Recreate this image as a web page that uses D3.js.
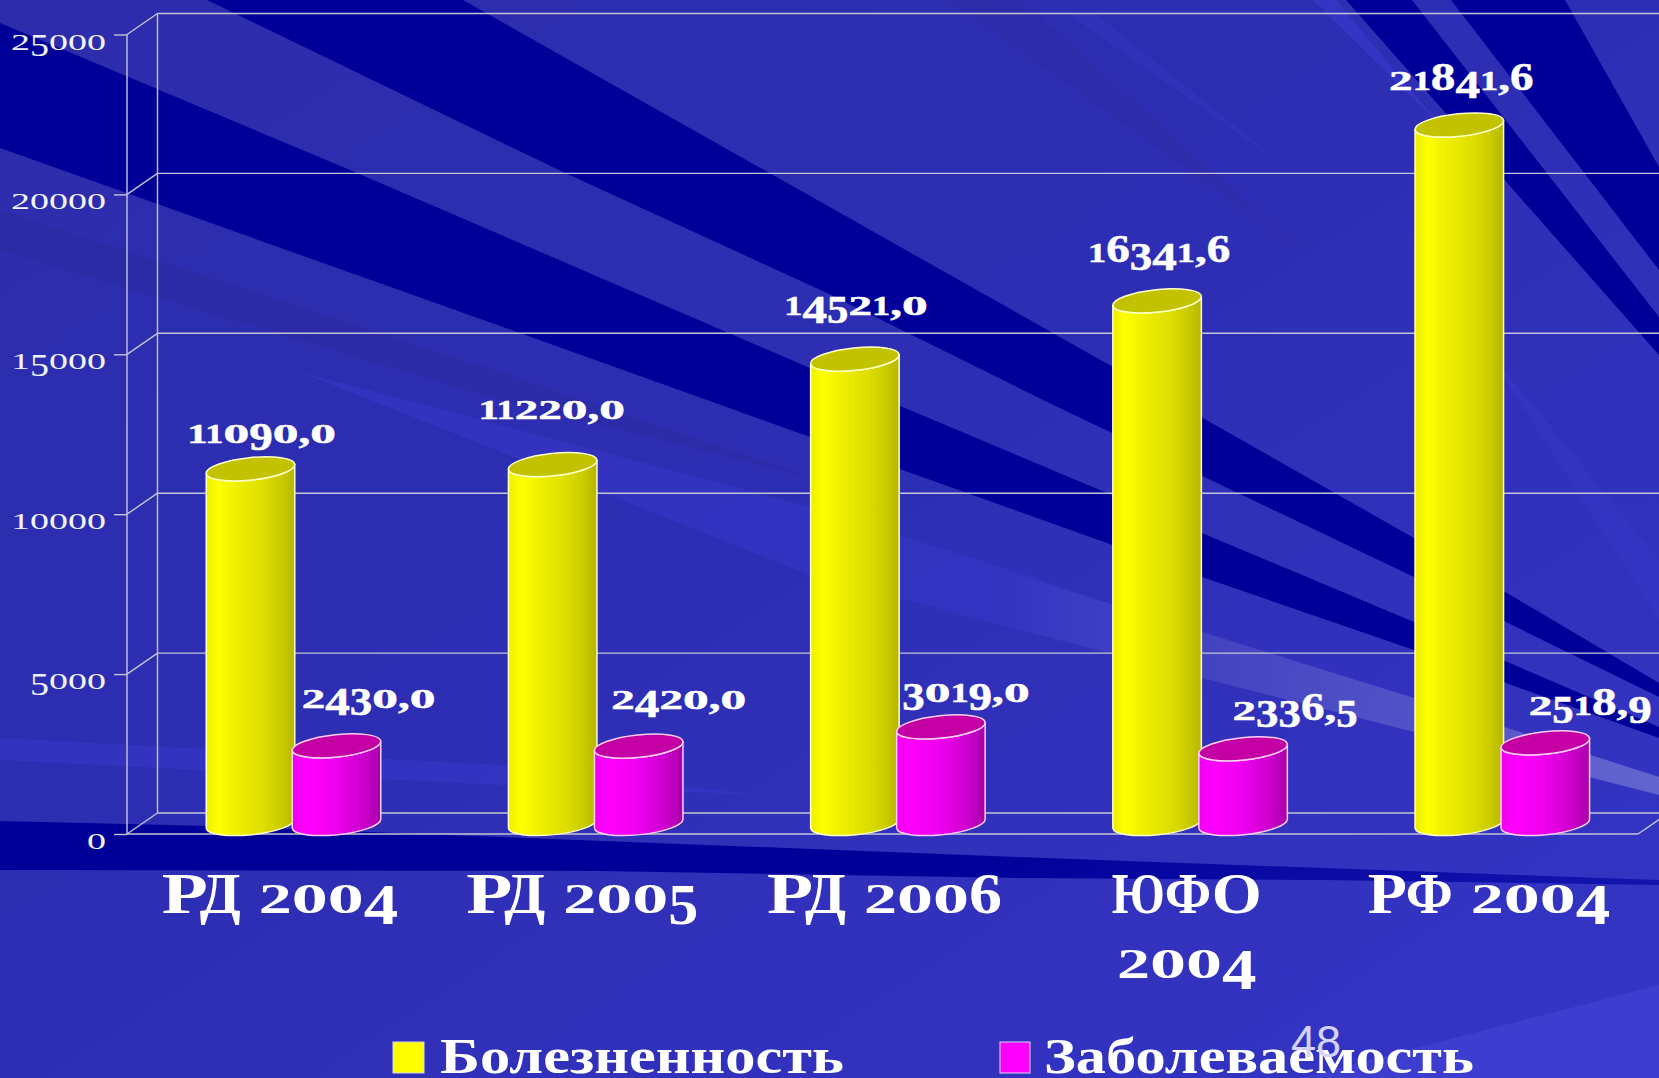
<!DOCTYPE html>
<html><head><meta charset="utf-8">
<style>html,body{margin:0;padding:0;background:#2e2eb4;overflow:hidden}svg{display:block}</style>
<script src="https://cdn.jsdelivr.net/npm/d3@7/dist/d3.min.js"></script>
</head><body><svg id="c" width="1659" height="1078"></svg>
<script>
const categories = ["РД 2004", "РД 2005", "РД 2006", "ЮФО\n2004", "РФ 2004"];
const seriesNames = ["Болезненность", "Заболеваемость"];
const morbidity = [11090.0, 11220.0, 14521.0, 16341.6, 21841.6];
const incidence = [2430.0, 2420.0, 3019.0, 2336.5, 2518.9];
const valueLabels = [["11090,0","11220,0","14521,0","16341,6","21841,6"],["2430,0","2420,0","3019,0","2336,5","2518,9"]];
const yTicks = [0, 5000, 10000, 15000, 20000, 25000];
const pageNumber = "48";

// label nudges relative to the top of each column (hand placed in the source chart)
const labelDx = [[11, -1, 1, 2, 2], [32, 40, 25, 52, 45]];
const labelDy = [[-26, -46, -44, -39, -35], [-38, -37, -25, -29, -28]];

// decorative background rays
const darkRays = [
 [[463,0],[1113,367],[1414,538],[1659,683],[1659,697],[1414,577],[1043,400],[827,293],[563,172],[207,0]],
 [[0,23],[350,170],[810,368],[1202,533],[1414,622],[1659,727],[1659,738],[1414,650],[1202,577],[707,400],[517,332],[0,148]],
 [[1451,0],[1565,0],[1659,167],[1659,270]],
 [[1346,0],[1412,0],[1659,317],[1659,355]]
];
const floorRay = [[0,821],[212,826],[500,837],[1020,857],[1100,860],[1659,880],[1659,885],[1323,880],[1020,878],[600,871],[0,870]];
const softRays = [
 {p:[[300,372],[810,507],[1020,573],[1160,620],[1160,665],[1020,630],[810,575]],c:"#3636c6",o:.7},
 {p:[[0,738],[500,765],[760,795],[500,785],[0,760]],c:"#3636c6",o:.7},
 {p:[[1659,985],[1300,1078],[1659,1078]],c:"#4040d2",o:.8},
 {p:[[1313,0],[1336,0],[1440,125]],c:"#3636c6",o:.9},
 {p:[[1067,13],[1095,13],[1290,170]],c:"#3434c2",o:.5},
 {p:[[0,210],[500,372],[820,480],[500,400],[0,250]],c:"#2a2a9e",o:.45},
 {p:[[950,0],[1020,0],[1300,250]],c:"#2a2a9e",o:.35},
 {p:[[1480,340],[1659,560],[1659,620]],c:"#3636c6",o:.7}
];
const glowRay = [[1000,570],[1202,632],[1414,698],[1659,777],[1659,795],[1414,732],[1202,678],[1000,625]];

// glyph widths of the wide old-style figures used in the source
const digitW = {"0":24,"1":17,"2":22,"3":21,"4":23,"5":20,"6":22,"7":20,"8":23,"9":22,",":11,"Р":38,"Д":41,"Ф":47,"Ю":53,"О":50," ":18};

const svg = d3.select("#c");
const W = 1659, H = 1078;
const defs = svg.append("defs");
function grad(id, stops, a){
  const g = defs.append("linearGradient").attr("id", id);
  Object.entries(a||{x1:0,y1:0,x2:1,y2:0}).forEach(([k,v])=>g.attr(k,v));
  stops.forEach(s=>g.append("stop").attr("offset",s[0]).attr("stop-color",s[1]).attr("stop-opacity",s[2]===undefined?1:s[2]));
}
grad("bg",[[0,"#2c2cab"],[.5,"#2e2eb5"],[1,"#3535c6"]],{x1:0,y1:0,x2:1,y2:1});
grad("glow",[[0,"#fff",0],[.3,"#fff",.09],[1,"#fff",.24]]);
grad("floor",[[0,"#000099"],[.55,"#000099"],[1,"#1414ae"]]);
grad("bodyY",[[0,"#eeee00"],[.14,"#ffff00"],[.36,"#eeee00"],[.62,"#e0e000"],[.84,"#cccc00"],[1,"#b6b600"]]);
grad("bodyM",[[0,"#f000f0"],[.16,"#ff00ff"],[.5,"#ee00ee"],[.8,"#cc00cc"],[1,"#a800a8"]]);

svg.append("rect").attr("width",W).attr("height",H).attr("fill","url(#bg)");
const line2 = d3.line();
svg.append("g").selectAll("path").data(softRays).join("path").attr("d",d=>line2(d.p)+"Z").attr("fill",d=>d.c).attr("opacity",d=>d.o);
svg.append("g").selectAll("path").data(darkRays).join("path").attr("d",d=>line2(d)+"Z").attr("fill","#000099");
svg.append("path").attr("d",line2(floorRay)+"Z").attr("fill","url(#floor)");
svg.append("path").attr("d",line2(glowRay)+"Z").attr("fill","url(#glow)");

// scales
const depth = {x:30.5, y:21};
const x = d3.scaleBand().domain(categories).range([127,1638]);
const xSeries = d3.scaleBand().domain(seriesNames).range([79,251]);
const yBack = d3.scaleLinear().domain([0,25000]).range([813,13.5]);
const yFront = v => yBack(v)+depth.y;
const yMid = v => yBack(v)+depth.y/2;
const barRx = 44.5, barRy = 11.2, tilt = -6;

// old-style numerals built from real text; each glyph is fitted to its width
const serif = "'Liberation Serif','DejaVu Serif',serif";
function oldStyle(sel, str, fs, k, fixed){
  sel.text(null);
  let cur = 0;
  for(const ch of str){
    let size = fs, base = 0;
    if("012".includes(ch)) size = fs*.74;
    else if("34579".includes(ch)){ size = fs*1.03; base = fs*.2; }
    else if("68".includes(ch)) size = fs*1.03;
    else if(ch===",") size = fs*.9;
    sel.append("tspan").attr("font-size",size).attr("dy",base-cur)
      .attr("textLength",(fixed||digitW[ch]||20)*k).attr("lengthAdjust","spacingAndGlyphs").text(ch);
    cur = base;
  }
}

// walls and grid
const gridCol = "#c4c4d4";
const walls = svg.append("g").attr("fill","none").attr("stroke",gridCol).attr("stroke-width",1.4);
const backX = x.range()[0]+depth.x;
walls.selectAll(".grid").data(yTicks).join("line").attr("class","grid")
  .attr("x1",backX).attr("x2",W).attr("y1",d=>yBack(d)).attr("y2",d=>yBack(d));
walls.selectAll(".diag").data(yTicks).join("line").attr("class","diag")
  .attr("x1",x.range()[0]).attr("x2",backX).attr("y1",d=>yFront(d)).attr("y2",d=>yBack(d));
walls.append("line").attr("x1",backX).attr("x2",backX).attr("y1",yBack(25000)).attr("y2",yBack(0));
walls.append("line").attr("x1",x.range()[0]).attr("x2",x.range()[0]).attr("y1",yFront(25000)).attr("y2",yFront(0));
walls.append("line").attr("x1",x.range()[1]).attr("x2",x.range()[1]+depth.x).attr("y1",yFront(0)).attr("y2",yBack(0));
walls.append("line").attr("x1",x.range()[0]).attr("x2",x.range()[1]).attr("y1",yFront(0)).attr("y2",yFront(0));

// y axis (ticks + labels) through d3.axisLeft
const yAxisScale = d3.scaleLinear().domain([0,25000]).range([yFront(0),yFront(25000)]);
const yAxis = svg.append("g").attr("transform",`translate(${x.range()[0]},0)`)
  .call(d3.axisLeft(yAxisScale).tickValues(yTicks).tickSize(13).tickFormat(d3.format("d")));
yAxis.select(".domain").remove();
yAxis.selectAll("line").attr("stroke",gridCol).attr("stroke-width",1.4);
yAxis.selectAll("text").each(function(d){
  const t = d3.select(this), s = String(d);
  t.attr("x",null).attr("dy",null).attr("font-family",serif).attr("fill","#f2f2fa").attr("text-anchor","end")
   .attr("transform",`translate(-21,14.5)`);
  oldStyle(t,s,31,1,19);
});

// columns
const bars = svg.append("g");
const series = [
 {name:seriesNames[0], values:morbidity, body:"url(#bodyY)", top:"#c2c200", edge:"#ffffc8"},
 {name:seriesNames[1], values:incidence, body:"url(#bodyM)", top:"#c400a4", edge:"#ffd0f4"}
];
const rad = tilt*Math.PI/180, ex = barRx*Math.cos(rad), ey = barRx*Math.sin(rad);
function cx(cat,s){ return x(cat)+xSeries(s)+xSeries.bandwidth()/2+1.5; }
function bodyPath(c,yt,yb){
  return `M${c-ex},${yt-ey}L${c-ex},${yb-ey}A${barRx},${barRy} ${tilt} 0 0 ${c+ex},${yb+ey}L${c+ex},${yt+ey}A${barRx},${barRy} ${tilt} 0 1 ${c-ex},${yt-ey}Z`;
}
const rows = categories.flatMap((cat,i)=>series.map(s=>({cat,i,s,v:s.values[i]})));
const g = bars.selectAll("g").data(rows).join("g");
g.append("path").attr("d",d=>bodyPath(cx(d.cat,d.s.name),yMid(d.v),yMid(0)))
  .attr("fill",d=>d.s.body).attr("stroke",d=>d.s.edge).attr("stroke-width",1.5).attr("stroke-linejoin","round");
g.append("ellipse").attr("cx",0).attr("cy",0).attr("rx",barRx).attr("ry",barRy)
  .attr("transform",d=>`translate(${cx(d.cat,d.s.name)},${yMid(d.v)}) rotate(${tilt})`)
  .attr("fill",d=>d.s.top).attr("stroke",d=>d.s.edge).attr("stroke-width",1.5);

// value labels
const vl = svg.append("g").attr("font-family",serif).attr("font-weight","bold").attr("fill","#fff").attr("text-anchor","middle")
  .attr("stroke","#fff").attr("stroke-width",.5);
series.forEach((s,si)=>{
  vl.selectAll(null).data(s.values).join("text")
    .attr("transform",(d,i)=>`translate(${cx(categories[i],s.name)+labelDx[si][i]},${yMid(d)+labelDy[si][i]})`)
    .each(function(d,i){ oldStyle(d3.select(this),valueLabels[si][i],38,1.07); });
});

// category axis
const xAxis = svg.append("g").attr("transform",`translate(0,${yFront(0)})`)
  .call(d3.axisBottom(x).tickSize(0).tickFormat(""));
xAxis.select(".domain").remove();
xAxis.selectAll("text").remove();
xAxis.selectAll(".tick").each(function(d){
  const lines = d.split("\n"), tick = d3.select(this);
  lines.forEach((ln,k)=>{
    const t = tick.append("text").attr("font-family",serif).attr("font-weight","bold").attr("fill","#fff")
      .attr("text-anchor","middle").attr("y",null)
      .attr("transform",`translate(2,${79+k*65})`);
    t.text(null);
    let cur = 0;
    for(const ch of ln){
      const isDigit = /[0-9]/.test(ch);
      let size = 56, base = 0;
      if("012".includes(ch)) size = 56*.74;
      else if("34579".includes(ch)){ size = 56*1.03; base = 56*.2; }
      else if("68".includes(ch)) size = 56*1.03;
      t.append("tspan").attr("font-size",size).attr("dy",base-cur)
       .attr("textLength",(digitW[ch]||20)*(isDigit?1.5:1)).attr("lengthAdjust","spacingAndGlyphs").text(ch);
      cur = base;
    }
  });
});

// legend
const legendItems = [
 {name:seriesNames[0], color:"#ffff00", sx:393, sw:31, tx:440, tw:404},
 {name:seriesNames[1], color:"#ff00ff", sx:1000, sw:30, tx:1044, tw:430}
];
const lg = svg.append("g");
lg.selectAll("rect").data(legendItems).join("rect")
  .attr("x",d=>d.sx).attr("y",1042).attr("width",d=>d.sw).attr("height",31)
  .attr("fill",d=>d.color).attr("stroke","#d8d8e8").attr("stroke-width",1);
lg.selectAll("text").data(legendItems).join("text")
  .attr("font-family",serif).attr("font-weight","bold").attr("font-size",50).attr("fill","#fff")
  .text(d=>d.name)
  .each(function(d){
    const w = this.getComputedTextLength();
    d3.select(this).attr("transform",`translate(${d.tx},1073) scale(${d.tw/w},1)`);
  });

svg.append("text").attr("x",1291).attr("y",1057).attr("font-family","'Liberation Sans',Arial,sans-serif")
  .attr("font-size",45).attr("fill","#d4d4fa").text(pageNumber);
</script></body></html>
